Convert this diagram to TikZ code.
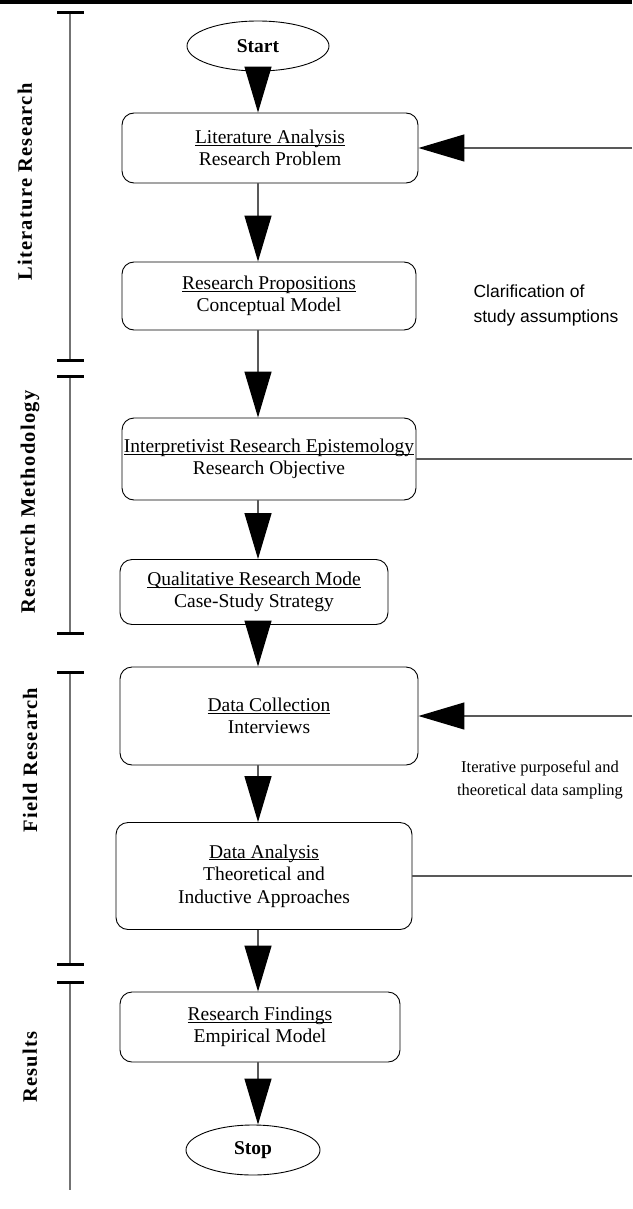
\documentclass[tikz,border=0pt]{standalone}
\usepackage{fontspec}
\setmainfont{Liberation Serif}
\newfontfamily\sansfont{Liberation Sans}
\usetikzlibrary{positioning,arrows.meta,shapes.geometric}
\newcommand\uln[1]{\underline{\raisebox{0pt}[\height][0pt]{#1}}}

\begin{document}
\begin{tikzpicture}[x=1pt, y=-1pt,
            box/.style={rectangle, rounded corners=12pt, draw=black, line width=0.9pt, align=center, inner sep=0pt, font=\fontsize{19.5}{22.5}\selectfont},
            term/.style={ellipse, draw=black, line width=0.9pt, inner sep=0pt, font=\bfseries\fontsize{19.5}{22}\selectfont},
            flow/.style={-{Triangle[length=46pt, width=27pt, color=black]}, line width=1.3pt, draw=black!65},
            back/.style={line width=1.3pt, draw=black!65},
            phase/.style={rotate=90, font=\bfseries\fontsize{20.5}{22}\selectfont\addfontfeatures{LetterSpace=6}},
            bar/.style={line width=1.5pt, draw=black!55},
            tick/.style={line width=3pt, draw=black},
            note/.style={align=center, font=\fontsize{16.5}{23}\selectfont}
        ]
            \useasboundingbox (0,0) rectangle (632,1209);
            \fill[black] (0,0) rectangle (632,4);
            \coordinate (edge) at (632,0);

            % flow chart
            \node[term, minimum width=142pt, minimum height=50pt](start) at (258,46) {Start};
            \node[box, minimum width=296pt, minimum height=70pt](lit) at (270,148) {\uln{Literature Analysis}\\Research Problem};
            \node[box, minimum width=294pt, minimum height=68pt](prop) at (269,296) {\uln{Research Propositions}\\Conceptual Model};
            \node[box, minimum width=294pt, minimum height=82pt](epis) at (269,459) {\uln{Interpretivist Research Epistemology}\\Research Objective};
            \node[box, minimum width=268pt, minimum height=65pt](qual) at (254,592) {\uln{Qualitative Research Mode}\\Case-Study Strategy};
            \node[box, minimum width=298pt, minimum height=98pt](coll) at (269,716) {\uln{Data Collection}\\Interviews};
            \node[box, minimum width=296pt, minimum height=107pt](anal) at (264,876) {\uln{Data Analysis}\\Theoretical and\\Inductive Approaches};
            \node[box, minimum width=280pt, minimum height=70pt](find) at (260,1027) {\uln{Research Findings}\\Empirical Model};
            \node[term, minimum width=134pt, minimum height=50pt](stop) at (253,1150) {Stop};

            \draw[flow] (start.south) -- (lit.north -| start);
            \draw[flow] (lit.south -| start) -- (prop.north -| start);
            \draw[flow] (prop.south -| start) -- (epis.north -| start);
            \draw[flow] (epis.south -| start) -- (qual.north -| start);
            \draw[flow] (qual.south -| start) -- (coll.north -| start);
            \draw[flow] (coll.south -| start) -- (anal.north -| start);
            \draw[flow] (anal.south -| start) -- (find.north -| start);
            \draw[flow] (find.south -| start) -- (stop.north -| start);

            % loops back from the right
            \draw[flow] (lit.east -| edge) -- (lit.east);
            \draw[back] (epis.east) -- (epis.east -| edge);
            \draw[flow] (coll.east -| edge) -- (coll.east);
            \draw[back] (anal.east) -- (anal.east -| edge);

            \node[note, align=left, font=\sansfont\fontsize{17.5}{25}\selectfont](clar) at (546,305) {Clarification of\\ study assumptions};
            \node[note](iter) at (540,780) {Iterative purposeful and\\theoretical data sampling};

            % phases
            \draw[bar] (70,13) -- (70,360);
            \draw[bar] (70,376) -- (70,633);
            \draw[bar] (70,672) -- (70,964);
            \draw[bar] (70,982) -- (70,1190);
            \foreach \y in {13,360,376,633,672,964,982}
                \draw[tick] (57,\y) -- (84,\y);

            \node[phase](ph1) at (25,182) {Literature Research};
            \node[phase](ph2) at (30,502) {Research Methodology};
            \node[phase](ph3) at (30,760) {Field Research};
            \node[phase](ph4) at (30,1067) {Results};
        \end{tikzpicture}
\end{document}
